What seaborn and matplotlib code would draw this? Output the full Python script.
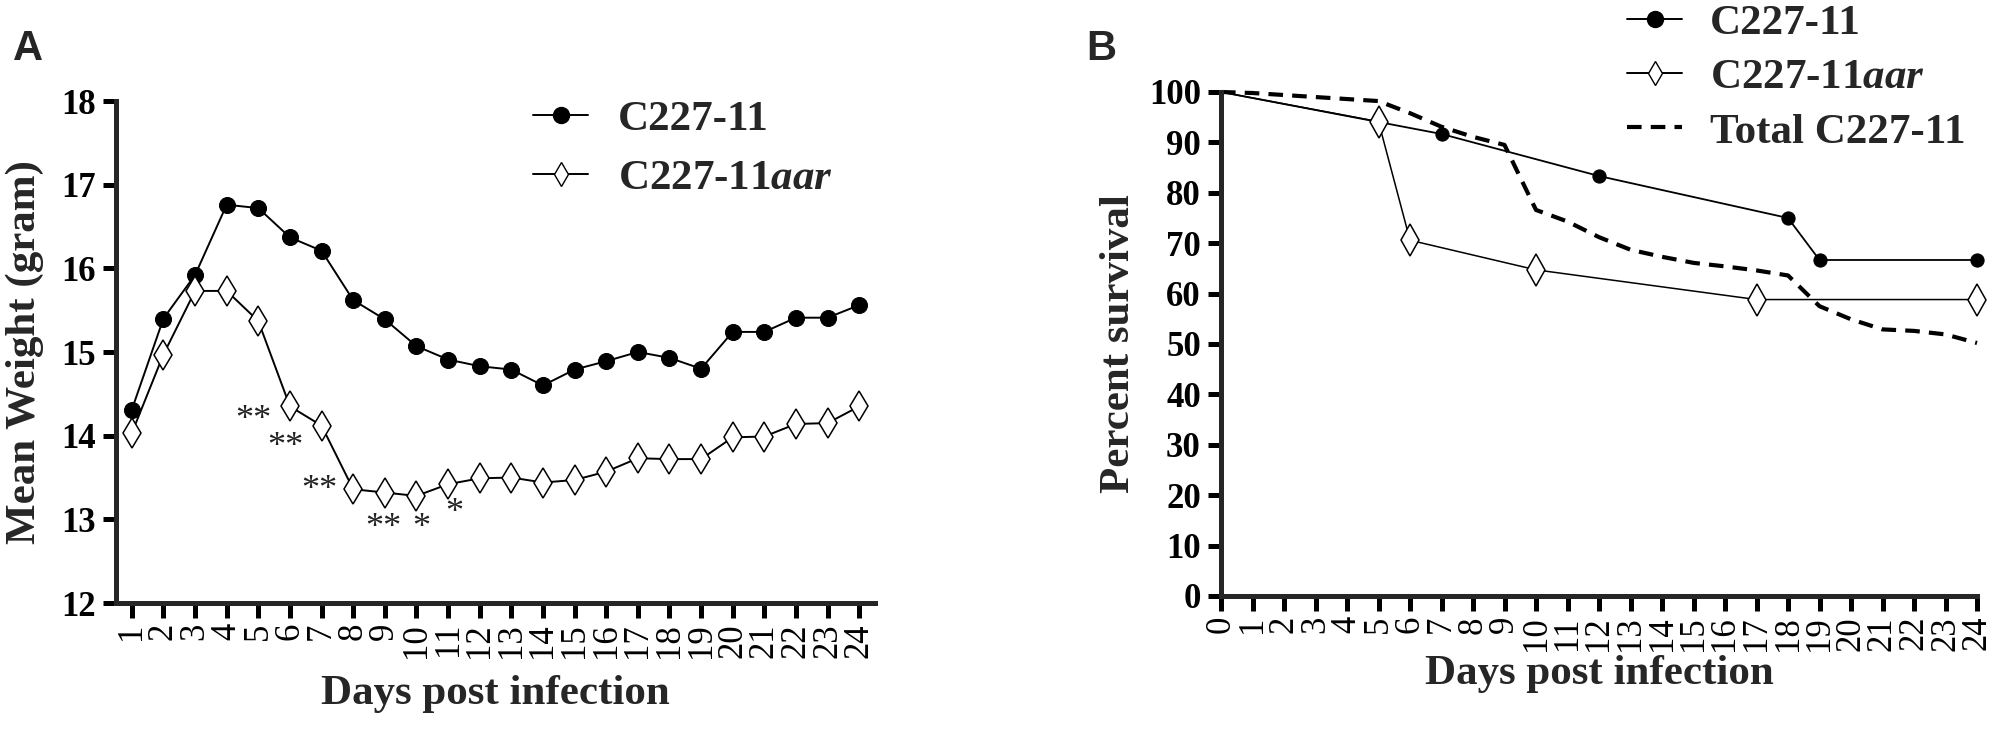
import numpy as np
import pandas as pd
import seaborn as sns
import matplotlib.pyplot as plt
from matplotlib.lines import Line2D

sns.set_style("ticks")
plt.rcParams['font.family'] = ['Liberation Serif', 'DejaVu Serif']
plt.rcParams['mathtext.fontset'] = 'custom'
plt.rcParams['mathtext.it'] = 'Liberation Serif:italic:bold'
plt.rcParams['mathtext.rm'] = 'Liberation Serif:bold'

# panel A : mean weight
days_a = list(range(1, 25))
weight_wt = [14.31, 15.40, 15.92, 16.76, 16.72, 16.37, 16.21, 15.62, 15.39, 15.07,
             14.91, 14.83, 14.79, 14.60, 14.79, 14.89, 15.00, 14.93, 14.80, 15.24,
             15.24, 15.41, 15.41, 15.56]
weight_aar = [14.03, 14.97, 15.73, 15.73, 15.37, 14.35, 14.12, 13.36, 13.32, 13.28,
              13.42, 13.49, 13.50, 13.44, 13.47, 13.57, 13.73, 13.72, 13.72, 13.98,
              13.99, 14.14, 14.15, 14.35]
star_x = [4.85, 5.87, 6.92, 8.94, 10.15, 11.2]
star_y = [14.18, 13.86, 13.35, 12.89, 12.89, 13.07]
star_txt = ['**', '**', '**', '**', '*', '*']

# panel B : survival
surv_wt_days = [0, 7, 12, 18, 19, 24]
surv_wt = [100, 91.67, 83.33, 75.0, 66.67, 66.67]
surv_aar_days = [0, 5, 6, 10, 17, 24]
surv_aar = [100, 94.12, 70.59, 64.71, 58.82, 58.82]
total_days = list(range(0, 25))
total_surv = [100, 99.8, 99.4, 99.0, 98.6, 98.2, 95.8, 93.1, 91.1, 89.5, 76.6, 74.3,
              71.2, 68.7, 67.3, 66.1, 65.4, 64.6, 63.6, 57.5, 54.9, 52.9, 52.6, 51.9, 50.2]

fig = plt.figure(figsize=(20.03, 7.36), dpi=100)
axA = fig.add_axes([116/2003, 1-603/736, (875-116)/2003, (603-101)/736])
axB = fig.add_axes([1221/2003, 1-596/736, (1977-1221)/2003, (596-92)/736])

# --- A ---
sns.lineplot(x=days_a, y=weight_wt, ax=axA, color='black', lw=1.4, marker='o',
             markersize=11.5, markeredgecolor='black', markerfacecolor='black',
             clip_on=False)
sns.lineplot(x=days_a, y=weight_aar, ax=axA, color='black', lw=1.4, marker='d',
             markersize=15, markeredgecolor='black', markerfacecolor='white',
             markeredgewidth=1.1, clip_on=False)
for x, y, t in zip(star_x, star_y, star_txt):
    axA.text(x, y, t, ha='center', va='center', fontsize=26, color='#222222')

axA.set_xlim(0.5, 24.5)
axA.set_ylim(12, 18)
axA.set_xticks(days_a)
axA.set_yticks(range(12, 19))
axA.set_xlabel('Days post infection', fontsize=31, fontweight='bold')
axA.set_ylabel('Mean Weight (gram)', fontsize=31, fontweight='bold')
axA.xaxis.set_label_coords(0.5, -0.143)
axA.yaxis.set_label_coords(-0.095, 0.5)

# --- B ---
sns.lineplot(x=surv_wt_days, y=surv_wt, ax=axB, color='black', lw=1.3, marker='o',
             markersize=9.5, markeredgecolor='black', markerfacecolor='black',
             markevery=[1, 2, 3, 4, 5], clip_on=False)
sns.lineplot(x=surv_aar_days, y=surv_aar, ax=axB, color='black', lw=1.1, marker='d',
             markersize=16, markeredgecolor='black', markerfacecolor='white',
             markeredgewidth=1.1, markevery=[1, 2, 3, 4, 5], clip_on=False)
sns.lineplot(x=total_days, y=total_surv, ax=axB, color='black', lw=3, dashes=(3.5, 2.2),
             clip_on=False)

axB.set_xlim(0, 24)
axB.set_ylim(0, 100)
axB.set_xticks(total_days)
axB.set_yticks(range(0, 101, 10))
axB.set_xlabel('Days post infection', fontsize=31, fontweight='bold')
axB.set_ylabel('Percent survival', fontsize=31, fontweight='bold')
axB.xaxis.set_label_coords(0.5, -0.117)
axB.yaxis.set_label_coords(-0.110, 0.5)

for ax in (axA, axB):
    sns.despine(ax=ax)
    for s in ('left', 'bottom'):
        ax.spines[s].set_linewidth(3.6)
    ax.tick_params(axis='both', width=3.6, direction='out', colors='black')
    ax.tick_params(axis='x', length=10.8, pad=3.6, labelsize=25, labelrotation=90)
    ax.tick_params(axis='y', length=9.5, pad=5, labelsize=25)
    for lab in ax.get_yticklabels():
        lab.set_fontweight('bold')

# legends
h_wt = Line2D([], [], color='black', lw=1.4, marker='o', markersize=11.5,
              markerfacecolor='black', markeredgecolor='black')
h_aar = Line2D([], [], color='black', lw=1.4, marker='d', markersize=12,
               markerfacecolor='white', markeredgecolor='black', markeredgewidth=1.0)
h_tot = Line2D([], [], color='black', lw=3, linestyle=(0, (3.5, 2.2)))

axA.legend([h_wt, h_aar], ['C227-11', 'C227-11$aar$'], loc='upper left',
           bbox_to_anchor=(533/2003, 1-100/736), bbox_transform=fig.transFigure,
           frameon=False, prop={'size': 31, 'weight': 'bold'}, handlelength=1.28,
           handletextpad=0.7, labelspacing=0.45, borderpad=0, borderaxespad=0)
axB.legend([h_wt, h_aar, h_tot], ['C227-11', 'C227-11$aar$', 'Total C227-11'],
           loc='upper left', bbox_to_anchor=(1627/2003, 1-4/736),
           bbox_transform=fig.transFigure, frameon=False,
           prop={'size': 31, 'weight': 'bold'}, handlelength=1.28,
           handletextpad=0.65, labelspacing=0.35, borderpad=0, borderaxespad=0)

fig.text(13/2003, 1-60/736, 'A', fontsize=30, fontweight='bold',
         family='Liberation Sans', va='baseline')
fig.text(1086/2003, 1-60/736, 'B', fontsize=30, fontweight='bold',
         family='Liberation Sans', va='baseline')

fig.savefig('out.png', dpi=100)
